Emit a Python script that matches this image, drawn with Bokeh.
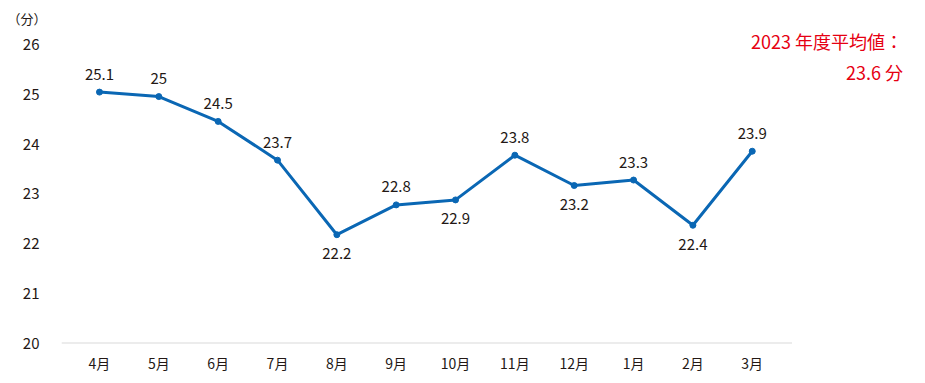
from bokeh.plotting import figure
from bokeh.models import Range1d, FixedTicker, Label, ColumnDataSource
from bokeh.core.properties import value
from bokeh.embed import file_html
from bokeh.resources import INLINE

months = ["4月", "5月", "6月", "7月", "8月", "9月", "10月", "11月", "12月", "1月", "2月", "3月"]
minutes = [25.05, 24.96, 24.46, 23.68, 22.18, 22.78, 22.88, 23.78, 23.17, 23.28, 22.37, 23.86]
labels = ["25.1", "25", "24.5", "23.7", "22.2", "22.8", "22.9", "23.8", "23.2", "23.3", "22.4", "23.9"]
label_side = ["above", "above", "above", "above", "below", "above", "below", "above", "below", "above", "below", "above"]
y_ticks = [20, 21, 22, 23, 24, 25, 26]
unit_text = "（分）"
avg_line1 = "2023 年度平均値："
avg_line2 = "23.6 分"

FONT = "Noto Sans CJK JP"
BLUE = "#0A67B4"
TXT = "#231815"
RED = "#E60012"

xs = list(range(len(months)))
src = ColumnDataSource(dict(
    x=xs, y=minutes, label=labels,
    off=[-18 if s == "above" else 19 for s in label_side],
))

p = figure(width=909, height=375, output_backend="svg", toolbar_location=None,
           x_range=Range1d(-0.64, 13.65), y_range=Range1d(19.97, 26.33),
           min_border_left=61, min_border_right=0, min_border_top=28, min_border_bottom=28,
           title=unit_text)
p.outline_line_color = None
p.xgrid.visible = False
p.ygrid.visible = False
p.background_fill_color = "white"
p.border_fill_color = "white"

p.title.align = "left"
p.title.offset = -54
p.title.text_font = FONT
p.title.text_font_size = "13px"
p.title.text_font_style = "normal"
p.title.text_color = TXT
p.title.standoff = 2

p.xaxis.ticker = FixedTicker(ticks=xs)
p.xaxis.major_label_overrides = {i: m for i, m in enumerate(months)}
p.xaxis.axis_line_color = None
p.xaxis.major_tick_line_color = None
p.xaxis.minor_tick_line_color = None
p.xaxis.major_tick_out = 0
p.xaxis.major_label_standoff = 8
p.xaxis.major_label_text_font = FONT
p.xaxis.major_label_text_font_size = "14px"
p.xaxis.major_label_text_color = TXT

p.yaxis.ticker = FixedTicker(ticks=y_ticks)
p.yaxis.axis_line_color = None
p.yaxis.major_tick_line_color = None
p.yaxis.minor_tick_line_color = None
p.yaxis.major_tick_out = 0
p.yaxis.major_label_standoff = 22
p.yaxis.major_label_text_font = FONT
p.yaxis.major_label_text_font_size = "15px"
p.yaxis.major_label_text_color = TXT

# baseline of the category area
p.segment(x0=[-0.64], y0=[20], x1=[11.67], y1=[20], line_color="#D9D9D9", line_width=1)

p.line("x", "y", source=src, line_color=BLUE, line_width=3)
p.scatter("x", "y", source=src, size=6, fill_color=BLUE, line_color=BLUE)
p.text("x", "y", text="label", source=src, y_offset="off",
       text_align="center", text_baseline="middle",
       text_font=value(FONT), text_font_size="15px", text_color=TXT)

p.add_layout(Label(x=13.54, y=26.07, text=avg_line1, text_font=FONT, text_font_size="18px",
                   text_color=RED, text_align="right", text_baseline="middle"))
p.add_layout(Label(x=13.54, y=25.46, text=avg_line2, text_font=FONT, text_font_size="18px",
                   text_color=RED, text_align="right", text_baseline="middle"))

open("out.html", "w").write(file_html(p, INLINE))
